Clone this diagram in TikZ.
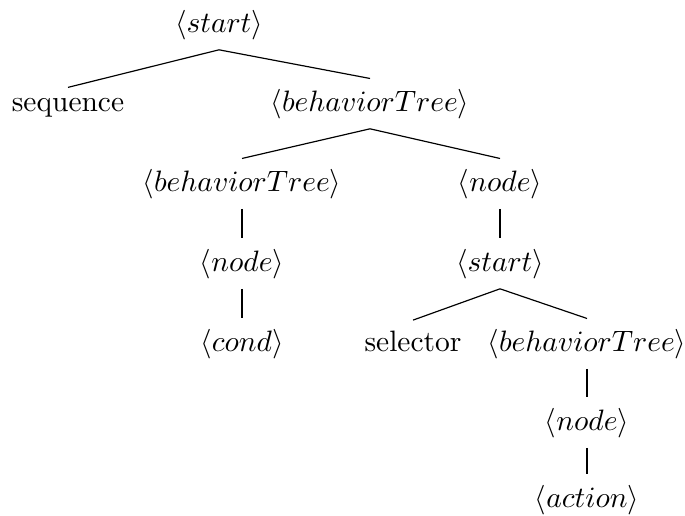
\documentclass[tikz,border=0pt]{standalone}
\begin{document}
\begin{tikzpicture}[x=0.339pt,y=-0.339pt,
  tn/.style={anchor=base},
  edge/.style={draw,line width=0.4pt}]
\useasboundingbox (0,0) rectangle (685,515);
\node[tn] (root) at (219,32) {$\langle start\rangle$};
\node[tn] (seq) at (68,111) {sequence};
\node[tn] (bt1) at (370,111) {$\langle behaviorTree\rangle$};
\node[tn] (bt2) at (242,191) {$\langle behaviorTree\rangle$};
\node[tn] (nd1) at (500,191) {$\langle node\rangle$};
\node[tn] (nd2) at (242,271) {$\langle node\rangle$};
\node[tn] (st2) at (500,271) {$\langle start\rangle$};
\node[tn] (cond) at (242,351) {$\langle cond\rangle$};
\node[tn] (sel) at (413,351) {selector};
\node[tn] (bt3) at (587,351) {$\langle behaviorTree\rangle$};
\node[tn] (nd3) at (587,430) {$\langle node\rangle$};
\node[tn] (act) at (587,507) {$\langle action\rangle$};
\path[edge] (root.south) -- (seq.north);
\path[edge] (root.south) -- (bt1.north);
\path[edge] (bt1.south) -- (bt2.north);
\path[edge] (bt1.south) -- (nd1.north);
\path[edge] (bt2.south) -- (nd2.north);
\path[edge] (nd2.south) -- (cond.north);
\path[edge] (nd1.south) -- (st2.north);
\path[edge] (st2.south) -- (sel.north);
\path[edge] (st2.south) -- (bt3.north);
\path[edge] (bt3.south) -- (nd3.north);
\path[edge] (nd3.south) -- (act.north);
\end{tikzpicture}
\end{document}
